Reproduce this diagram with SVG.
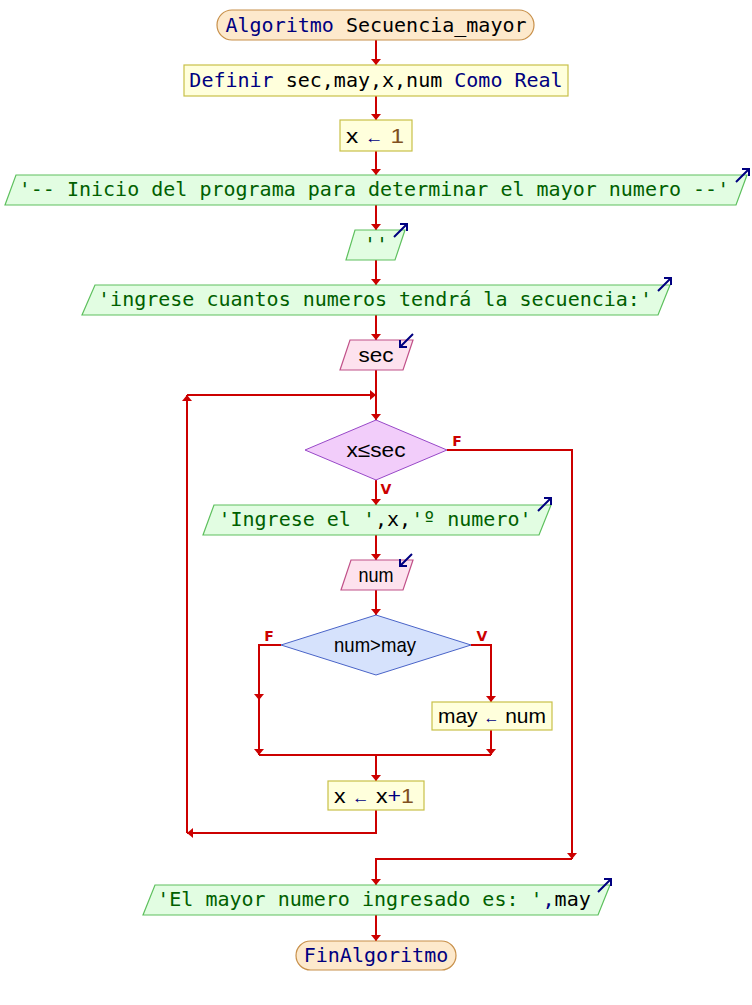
<svg xmlns="http://www.w3.org/2000/svg" width="752" height="1005" viewBox="0 0 752 1005">
<style>
.mono{font-family:"DejaVu Sans Mono","Liberation Mono",monospace;font-size:20px;text-anchor:middle}
.sans{font-family:"Liberation Sans","DejaVu Sans",sans-serif;font-size:21px;text-anchor:middle;fill:#000}
.kw{fill:#000080}
.id{fill:#000}
.str{fill:#006000}
.num{fill:#805020}
.op{fill:#000080}
.term{fill:#fde9cc;stroke:#c8904a;stroke-width:1.2}
.proc{fill:#ffffdc;stroke:#c8c048;stroke-width:1.2}
.out{fill:#e2fde2;stroke:#5ec05e;stroke-width:1.2}
.inp{fill:#fde2ee;stroke:#c05088;stroke-width:1.2}
.dec1{fill:#f2cdfa;stroke:#9848c8;stroke-width:1}
.dec2{fill:#d6e2fc;stroke:#4a64c8;stroke-width:1}
.io{fill:none;stroke:#000080;stroke-width:2}
.lbl{font-family:"DejaVu Sans","Liberation Sans",sans-serif;font-size:14px;font-weight:bold;fill:#cc0000;text-anchor:middle}
#connectors path{fill:none;stroke:#cc0000;stroke-width:2}
</style>
<defs>
<marker id="ah" viewBox="0 0 6 10" refX="6" refY="5" markerWidth="6" markerHeight="10" markerUnits="userSpaceOnUse" orient="auto">
<path d="M0,0 L6,5 L0,10 z" fill="#cc0000"/>
</marker>
</defs>
<rect width="752" height="1005" fill="#fff"/>

<g id="connectors">
<path d="M376,40 V65" marker-end="url(#ah)"/>
<path d="M376,96 V120" marker-end="url(#ah)"/>
<path d="M376,151 V175" marker-end="url(#ah)"/>
<path d="M376,205 V230" marker-end="url(#ah)"/>
<path d="M376,260 V285" marker-end="url(#ah)"/>
<path d="M376,315 V340" marker-end="url(#ah)"/>
<path d="M376,370 V420" marker-end="url(#ah)"/>
<path d="M187,395 H376" marker-end="url(#ah)"/>
<path d="M187,833 V395" marker-end="url(#ah)"/>
<path d="M376,810 V833 H187" marker-end="url(#ah)"/>
<path d="M376,480 V505" marker-end="url(#ah)"/>
<path d="M376,535 V560" marker-end="url(#ah)"/>
<path d="M376,590 V615" marker-end="url(#ah)"/>
<path d="M281,645 H259 V700" marker-end="url(#ah)"/>
<path d="M259,700 V755" marker-end="url(#ah)"/>
<path d="M471,645 H491 V702" marker-end="url(#ah)"/>
<path d="M491,730 V755" marker-end="url(#ah)"/>
<path d="M259,755 H491"/>
<path d="M376,755 V781" marker-end="url(#ah)"/>
<path d="M447,450 H572 V859" marker-end="url(#ah)"/>
<path d="M572,859 H376 V885" marker-end="url(#ah)"/>
<path d="M376,915 V941" marker-end="url(#ah)"/>
<text class="lbl" x="457" y="446">F</text>
<text class="lbl" x="386" y="494">V</text>
<text class="lbl" x="269" y="641">F</text>
<text class="lbl" x="482" y="641">V</text>
</g>

<g id="start">
<rect class="term" x="217" y="10" width="317" height="30" rx="15"/>
<text class="mono" x="376" y="32"><tspan class="kw">Algoritmo</tspan><tspan class="id"> Secuencia_mayor</tspan></text>
</g>

<g id="definir">
<rect class="proc" x="184" y="65" width="384" height="31"/>
<text class="mono" x="376" y="87"><tspan class="kw">Definir</tspan><tspan class="id"> sec,may,x,num </tspan><tspan class="kw">Como Real</tspan></text>
</g>

<g id="assign1">
<rect class="proc" x="340" y="120" width="72" height="31"/>
<text class="sans" x="375" y="143" textLength="58" lengthAdjust="spacingAndGlyphs"><tspan class="id">x </tspan><tspan class="op" font-size="16">←</tspan><tspan class="num"> 1</tspan></text>
</g>

<g id="out1">
<polygon class="out" points="16,175 747,175 736,205 5,205"/>
<text class="mono str" x="374" y="196">'-- Inicio del programa para determinar el mayor numero --'</text>
<path class="io" d="M736,182 L749,169 M742,169 L749,169 L749,176"/>
</g>

<g id="out2">
<polygon class="out" points="355,230 405,230 395,260 346,260"/>
<text class="mono str" x="376" y="251">''</text>
<path class="io" d="M394,237 L407,224 M400,224 L407,224 L407,231"/>
</g>

<g id="out3">
<polygon class="out" points="95,285 670,285 658,315 82,315"/>
<text class="mono str" x="375" y="306">'ingrese cuantos numeros tendrá la secuencia:'</text>
<path class="io" d="M658,291 L671,278 M664,278 L671,278 L671,285"/>
</g>

<g id="in_sec">
<polygon class="inp" points="350,340 413,340 403,370 340,370"/>
<text class="sans" x="376" y="362" textLength="35" lengthAdjust="spacingAndGlyphs">sec</text>
<path class="io" d="M413,334 L400,347 M407,347 L400,347 L400,340"/>
</g>

<g id="while">
<polygon class="dec1" points="376,420 447,450 376,480 305,450"/>
<text class="sans" x="376" y="457" textLength="59" lengthAdjust="spacingAndGlyphs">x≤sec</text>
</g>

<g id="out4">
<polygon class="out" points="214,505 551,505 539,535 203,535"/>
<text class="mono" x="375" y="526"><tspan class="str">'Ingrese el '</tspan><tspan class="id">,x,</tspan><tspan class="str">'º numero'</tspan></text>
<path class="io" d="M538,511 L551,498 M544,498 L551,498 L551,505"/>
</g>

<g id="in_num">
<polygon class="inp" points="351,560 413,560 403,590 341,590"/>
<text class="sans" x="376" y="582" textLength="35" lengthAdjust="spacingAndGlyphs">num</text>
<path class="io" d="M412,554 L400,566 M407,566 L400,566 L400,559"/>
</g>

<g id="if">
<polygon class="dec2" points="376,615 471,645 376,675 281,645"/>
<text class="sans" x="375" y="652" textLength="82" lengthAdjust="spacingAndGlyphs">num&gt;may</text>
</g>

<g id="assign2">
<rect class="proc" x="432" y="702" width="120" height="28"/>
<text class="sans" x="492" y="723" textLength="108" lengthAdjust="spacingAndGlyphs"><tspan class="id">may </tspan><tspan class="op" font-size="16">←</tspan><tspan class="id"> num</tspan></text>
</g>

<g id="assign3">
<rect class="proc" x="328" y="781" width="96" height="29"/>
<text class="sans" x="374" y="803" textLength="80" lengthAdjust="spacingAndGlyphs"><tspan class="id">x </tspan><tspan class="op" font-size="16">←</tspan><tspan class="id"> x</tspan><tspan class="op">+</tspan><tspan class="num">1</tspan></text>
</g>

<g id="out5">
<polygon class="out" points="155,885 610,885 598,915 143,915"/>
<text class="mono" x="374" y="906"><tspan class="str">'El mayor numero ingresado es: '</tspan><tspan class="op">,</tspan><tspan class="id">may</tspan></text>
<path class="io" d="M598,892 L611,879 M604,879 L611,879 L611,886"/>
</g>

<g id="end">
<rect class="term" x="296" y="941" width="160" height="29" rx="14.5"/>
<text class="mono kw" x="376" y="962">FinAlgoritmo</text>
</g>
</svg>
